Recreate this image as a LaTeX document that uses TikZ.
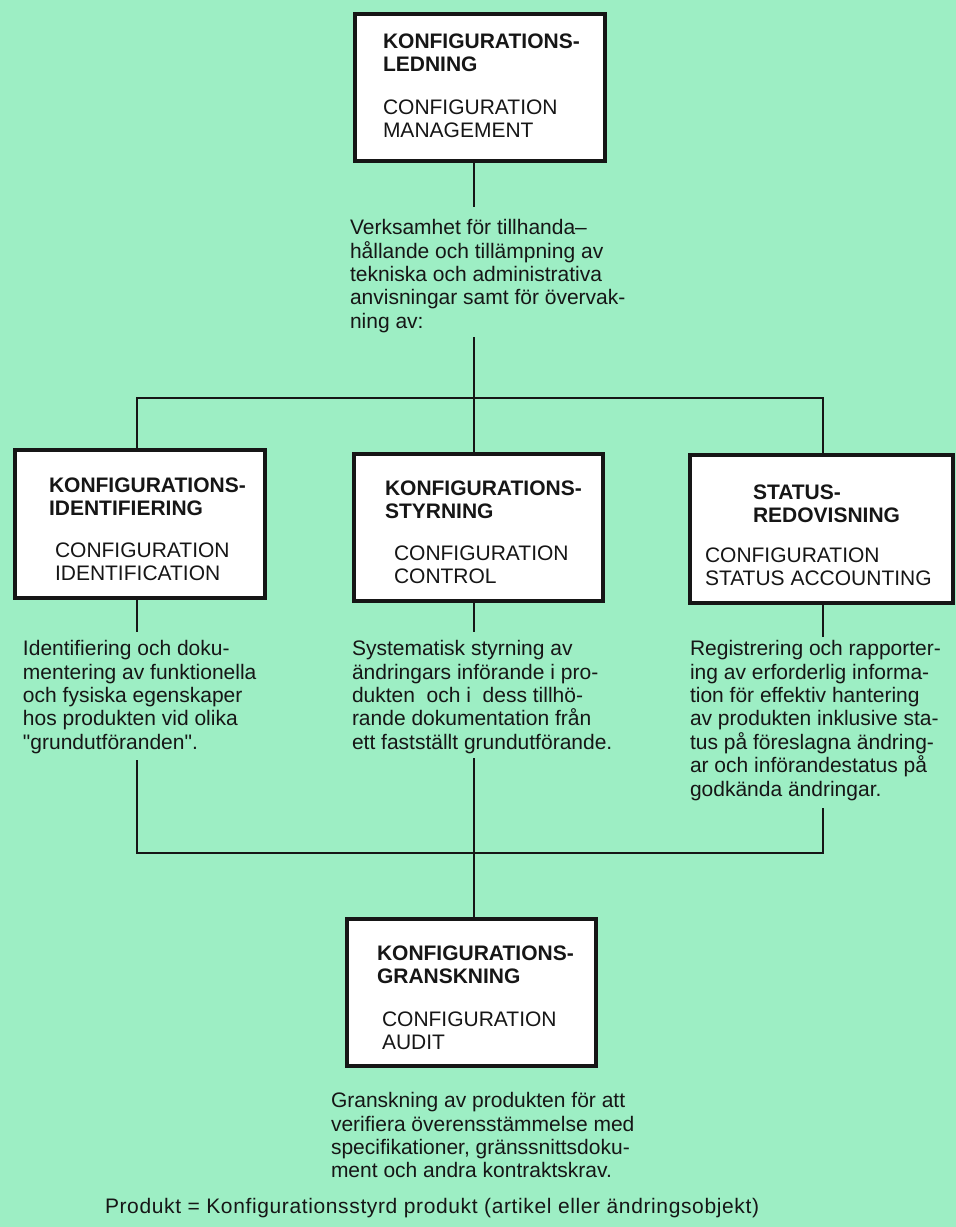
\documentclass[tikz,border=0pt]{standalone}
\usepackage{fontspec}
\setmainfont{Liberation Sans}
\definecolor{mint}{RGB}{157,238,196}
\definecolor{ink}{RGB}{22,22,22}
\begin{document}
\begin{tikzpicture}[x=1pt,y=-1pt,
  box/.style={draw=ink, line width=4.5pt, fill=white, inner sep=0, outer sep=0},
  txt/.style={anchor=north west, inner sep=0, outer sep=0, align=left, text=ink,
              font=\fontsize{21}{23.4}\selectfont},
  ttl/.style={txt, font=\fontsize{21}{23.4}\selectfont\bfseries},
  link/.style={draw=ink, line width=2.8pt}]
% page
\fill[mint] (0,0) rectangle (956,1227);
\useasboundingbox (0,0) rectangle (956,1227);

% boxes
\node[box, minimum width=250pt, minimum height=147pt] (mgmt)   at (480,87.5) {};
\node[box, minimum width=250pt, minimum height=148pt] (ident)  at (140,524) {};
\node[box, minimum width=249pt, minimum height=147pt] (ctrl)   at (478.5,527.5) {};
\node[box, minimum width=263pt, minimum height=148pt] (status) at (821.5,529) {};
\node[box, minimum width=249pt, minimum height=147pt] (audit)  at (471.5,992.5) {};

% box texts
\node[ttl] (mgmtT) at (383,33.4) {KONFIGURATIONS-\\LEDNING};
\node[txt] (mgmtE) at (383,99.4) {CONFIGURATION\\MANAGEMENT};
\node[ttl] (identT) at (49,477.4) {KONFIGURATIONS-\\IDENTIFIERING};
\node[txt] (identE) at (55,542.4) {CONFIGURATION\\IDENTIFICATION};
\node[ttl] (ctrlT) at (385,480.4) {KONFIGURATIONS-\\STYRNING};
\node[txt] (ctrlE) at (394,545.4) {CONFIGURATION\\CONTROL};
\node[ttl] (statusT) at (753,484.4) {STATUS-\\REDOVISNING};
\node[txt] (statusE) at (705,547.4) {CONFIGURATION\\STATUS ACCOUNTING};
\node[ttl] (auditT) at (377,945.4) {KONFIGURATIONS-\\GRANSKNING};
\node[txt] (auditE) at (382,1011.4) {CONFIGURATION\\AUDIT};

% descriptions
\node[txt] (mgmtD) at (350,219.4) {Verksamhet för tillhanda–\\hållande och tillämpning av\\tekniska och administrativa\\anvisningar samt för övervak-\\ning av:};
\node[txt] (identD) at (23,640.4) {Identifiering och doku-\\mentering av funktionella\\och fysiska egenskaper\\hos produkten vid olika\\\textquotedbl grundutföranden\textquotedbl.};
\node[txt] (ctrlD) at (352,640.4) {Systematisk styrning av\\ändringars införande i pro-\\dukten~ och i~ dess tillhö-\\rande dokumentation från\\ett fastställt grundutförande.};
\node[txt] (statusD) at (690,640.4) {Registrering och rapporter-\\ing av erforderlig informa-\\tion för effektiv hantering\\av produkten inklusive sta-\\tus på föreslagna ändring-\\ar och införandestatus på\\godkända ändringar.};
\node[txt] (auditD) at (331,1092.4) {Granskning av produkten för att\\verifiera överensstämmelse med\\specifikationer, gränssnittsdoku-\\ment och andra kontraktskrav.};
\node[txt, font=\fontsize{21}{23.4}\selectfont\addfontfeature{LetterSpace=3}] (note) at (105,1198.4) {Produkt = Konfigurationsstyrd produkt (artikel eller ändringsobjekt)};

% connector points
\coordinate (j0) at (474,207);
\coordinate (j1) at (474,337);
\coordinate (hub) at (474,398);
\coordinate (hl) at (137,398);
\coordinate (hr) at (823,398);
\coordinate (a1) at (137,632);
\coordinate (a2) at (474,632);
\coordinate (a3) at (823,637);
\coordinate (b1) at (137,760);
\coordinate (b2) at (474,758);
\coordinate (b3) at (823,808);
\coordinate (bl) at (137,853);
\coordinate (br) at (823,853);

% connectors
\draw[link] (j0 |- mgmt.south) -- (j0);
\draw[link] (j1) -- (hub);
\draw[link] (hl |- ident.north) -- (hl) -- (hr) -- (hr |- status.north);
\draw[link] (hub) -- (hub |- ctrl.north);
\draw[link] (hl |- ident.south) -- (a1);
\draw[link] (a2 |- ctrl.south) -- (a2);
\draw[link] (hr |- status.south) -- (a3);
\draw[link] (b1) -- (bl) -- (br) -- (b3);
\draw[link] (b2) -- (b2 |- audit.north);
\end{tikzpicture}
\end{document}
